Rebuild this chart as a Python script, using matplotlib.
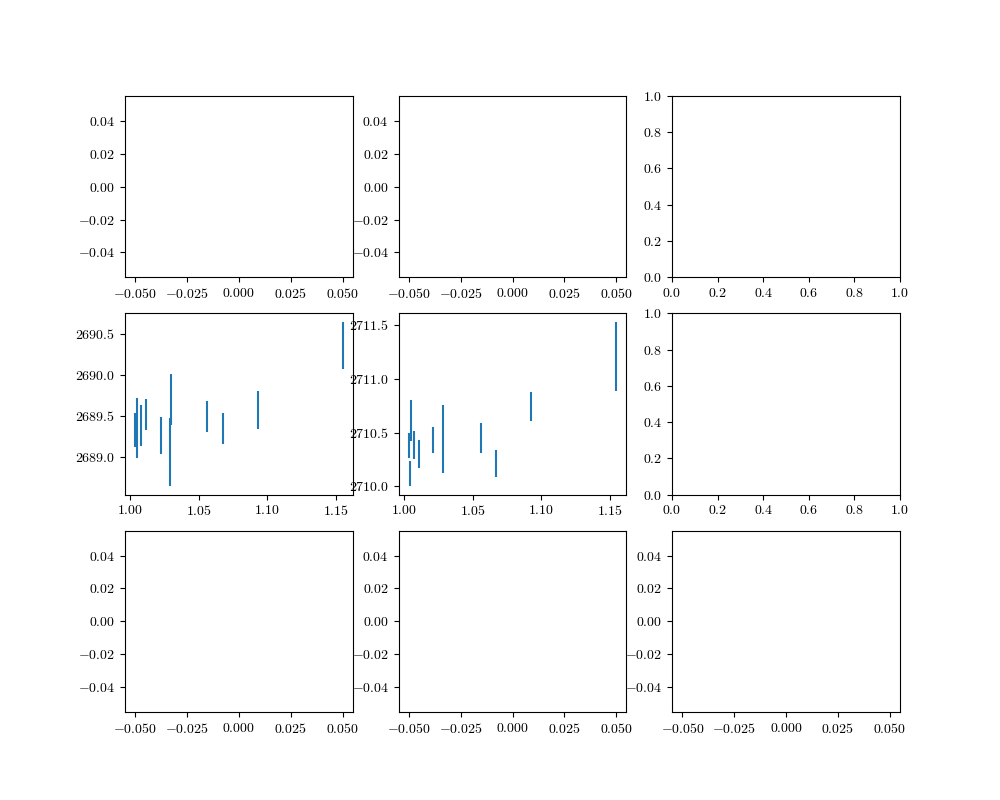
import numpy as np
import matplotlib
matplotlib.use("Agg")
import matplotlib.pyplot as plt

plt.rcParams['font.family'] = ['cmr10', 'DejaVu Serif']
plt.rcParams['mathtext.fontset'] = 'cm'
plt.rcParams['axes.formatter.use_mathtext'] = True

# left middle panel
x_a = [1.0036, 1.0051, 1.0075, 1.0111, 1.0220, 1.0286, 1.0293, 1.0563, 1.0679, 1.0932, 1.1550]
y_a = [2689.33, 2689.35, 2689.38, 2689.52, 2689.26, 2689.06, 2689.70, 2689.49, 2689.35, 2689.57, 2690.36]
e_a = [0.21, 0.37, 0.25, 0.19, 0.23, 0.42, 0.31, 0.19, 0.19, 0.23, 0.29]

# centre middle panel
x_b = [1.0036, 1.0044, 1.0051, 1.0075, 1.0109, 1.0213, 1.0286, 1.0563, 1.0672, 1.0924, 1.1543]
y_b = [2710.38, 2710.12, 2710.61, 2710.38, 2710.30, 2710.43, 2710.44, 2710.45, 2710.21, 2710.74, 2711.21]
e_b = [0.12, 0.12, 0.19, 0.13, 0.13, 0.12, 0.32, 0.14, 0.125, 0.135, 0.32]

fig, axes = plt.subplots(3, 3, figsize=(10, 8), dpi=100)

for ax in [axes[0, 0], axes[0, 1], axes[2, 0], axes[2, 1], axes[2, 2]]:
    ax.plot([], [])

axes[1, 0].errorbar(x_a, y_a, yerr=e_a, fmt='none')
axes[1, 1].errorbar(x_b, y_b, yerr=e_b, fmt='none')

fig.savefig("out.png")
